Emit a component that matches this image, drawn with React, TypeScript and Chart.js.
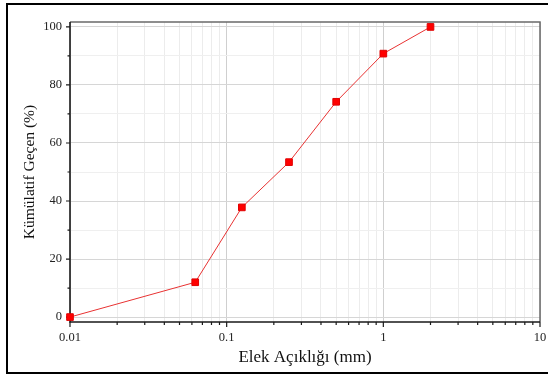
import React, { useEffect, useRef } from 'react';
import { Chart, registerables } from 'chart.js';

Chart.register(...registerables);

const sieveSizes = [0.01, 0.063, 0.125, 0.25, 0.5, 1, 2];
const passingPct = [0, 12, 37.8, 53.4, 74.2, 90.8, 100];

const xMajorTicks = [0.01, 0.1, 1, 10];
const xTickLabels = ['0.01', '0.1', '1', '10'];
const xMinorTicks = [
  0.02, 0.03, 0.04, 0.05, 0.06, 0.07, 0.08, 0.09,
  0.2, 0.3, 0.4, 0.5, 0.6, 0.7, 0.8, 0.9,
  2, 3, 4, 5, 6, 7, 8, 9,
];
const yMajorTicks = [0, 20, 40, 60, 80, 100];
const yTickLabels = ['0', '20', '40', '60', '80', '100'];
const yMinorTicks = [10, 30, 50, 70, 90];

const xTitle = 'Elek Açıklığı (mm)';
const yTitle = 'Kümülatif Geçen (%)';

const FONT = '"Liberation Serif", "Times New Roman", serif';

const framePlugin = {
  id: 'framePlugin',
  beforeDatasetsDraw(chart: any) {
    const { ctx, chartArea } = chart;
    const { left, right, top, bottom } = chartArea;
    const xs = chart.scales.x;
    const ys = chart.scales.y;
    ctx.save();
    ctx.strokeStyle = '#6a6a6a';
    ctx.lineWidth = 1.5;
    ctx.beginPath();
    ctx.moveTo(left, top);
    ctx.lineTo(right, top);
    ctx.lineTo(right, bottom);
    ctx.stroke();
    ctx.strokeStyle = '#1a1a1a';
    ctx.lineWidth = 1.6;
    ctx.beginPath();
    ctx.moveTo(left, top);
    ctx.lineTo(left, bottom);
    ctx.lineTo(right, bottom);
    ctx.stroke();
    ctx.lineWidth = 1.2;
    ctx.beginPath();
    xMajorTicks.forEach((v) => {
      const px = xs.getPixelForValue(v);
      ctx.moveTo(px, bottom);
      ctx.lineTo(px, bottom + 5);
    });
    xMinorTicks.forEach((v) => {
      const px = xs.getPixelForValue(v);
      ctx.moveTo(px, bottom);
      ctx.lineTo(px, bottom + 3);
    });
    yMajorTicks.forEach((v) => {
      const py = ys.getPixelForValue(v);
      ctx.moveTo(left, py);
      ctx.lineTo(left - 4, py);
    });
    yMinorTicks.forEach((v) => {
      const py = ys.getPixelForValue(v);
      ctx.moveTo(left, py);
      ctx.lineTo(left - 2.5, py);
    });
    ctx.stroke();
    ctx.restore();
  },
};

export default function App() {
  const canvasRef = useRef<HTMLCanvasElement | null>(null);

  useEffect(() => {
    document.body.style.margin = '0';
    document.body.style.overflow = 'hidden';
    const canvas = canvasRef.current;
    if (!canvas) return;
    const chart = new Chart(canvas, {
      type: 'line',
      data: {
        datasets: [
          {
            data: sieveSizes.map((x, i) => ({ x, y: passingPct[i] })),
            borderColor: 'rgb(232, 50, 50)',
            borderWidth: 1,
            backgroundColor: '#ff0000',
            pointBackgroundColor: '#ff0000',
            pointBorderColor: '#e00000',
            pointBorderWidth: 1,
            pointStyle: 'rect',
            pointRadius: 4.7,
            tension: 0,
            clip: false as any,
          },
        ],
      },
      options: {
        animation: false,
        responsive: false,
        maintainAspectRatio: false,
        events: [],
        layout: { padding: { left: 0, top: 22, right: 8, bottom: 0 } },
        plugins: {
          legend: { display: false },
          tooltip: { enabled: false },
        },
        scales: {
          x: {
            type: 'logarithmic',
            min: 0.01,
            max: 10,
            afterBuildTicks: (s: any) => {
              s.ticks = [...xMajorTicks, ...xMinorTicks]
                .sort((a, b) => a - b)
                .map((v) => ({ value: v, major: xMajorTicks.includes(v) }));
            },
            afterFit: (s: any) => {
              s.height = 55;
              s.paddingRight = 0;
              s.paddingLeft = 0;
            },
            ticks: {
              autoSkip: false,
              maxRotation: 0,
              padding: 8,
              color: '#222',
              font: { family: FONT, size: 12.5 },
              callback: (v: any) => {
                const i = xMajorTicks.indexOf(Number(v));
                return i >= 0 ? xTickLabels[i] : '';
              },
            },
            grid: {
              drawTicks: false,
              lineWidth: 1,
              color: (c: any) =>
                xMajorTicks.includes(c.tick?.value) ? '#cfcfcf' : '#ececec',
            },
            border: { display: false },
            title: {
              display: true,
              text: xTitle,
              color: '#111',
              font: { family: FONT, size: 17 },
              padding: { top: 0, bottom: 9 },
            },
          },
          y: {
            type: 'linear',
            min: -1.7,
            max: 101.7,
            afterBuildTicks: (s: any) => {
              s.ticks = [...yMajorTicks, ...yMinorTicks]
                .sort((a, b) => a - b)
                .map((v) => ({ value: v }));
            },
            afterFit: (s: any) => {
              s.width = 70;
              s.paddingTop = 0;
              s.paddingBottom = 0;
            },
            ticks: {
              autoSkip: false,
              padding: 8,
              color: '#222',
              font: { family: FONT, size: 12.5 },
              callback: (v: any) => {
                const i = yMajorTicks.indexOf(Number(v));
                return i >= 0 ? yTickLabels[i] : '';
              },
            },
            grid: {
              drawTicks: false,
              lineWidth: 1,
              color: (c: any) =>
                yMajorTicks.includes(c.tick?.value) ? '#d6d6d6' : '#efefef',
            },
            border: { display: false },
            title: {
              display: true,
              text: yTitle,
              color: '#111',
              font: { family: FONT, size: 15.5 },
              padding: { top: 21, bottom: 0 },
            },
          },
        },
      },
      plugins: [framePlugin],
    });
    return () => chart.destroy();
  }, []);

  return (
    <div style={{ position: 'relative', width: 548, height: 377, overflow: 'hidden', background: '#fff' }}>
      <canvas ref={canvasRef} width={548} height={377} style={{ display: 'block', width: 548, height: 377 }} />
      <div
        style={{
          position: 'absolute',
          left: 6,
          top: 3,
          width: 600,
          height: 371,
          border: '2px solid #000',
          boxSizing: 'border-box',
          pointerEvents: 'none',
        }}
      />
    </div>
  );
}
